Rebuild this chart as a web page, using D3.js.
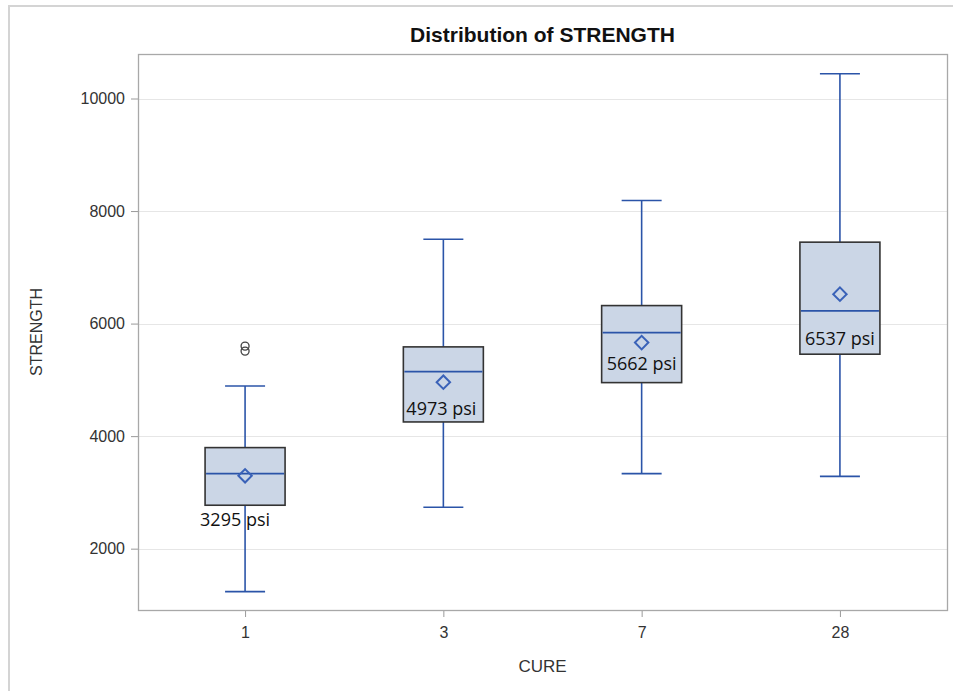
<!DOCTYPE html>
<html>
<head>
<meta charset="utf-8">
<script src="https://cdn.jsdelivr.net/npm/d3@7"></script>
<style>
  html, body { margin: 0; padding: 0; background: #fff; }
  svg { display: block; }
</style>
</head>
<body>
<script>
// ---- data ----
const categories = ["1", "3", "7", "28"];
const whiskerLow  = [1236, 2736, 3333, 3285];
const q1          = [2772, 4252, 4951, 5456];
const median      = [3333, 5147, 5840, 6226];
const q3          = [3796, 5586, 6320, 7447];
const whiskerHigh = [4892, 7500, 8187, 10439];
const means       = [3295, 4958, 5662, 6523];
const meanLabels  = ["3295 psi", "4973 psi", "5662 psi", "6537 psi"];
const outlierCats = ["1", "1"];
const outlierVals = [5600, 5511];
const yTicks      = [2000, 4000, 6000, 8000, 10000];

const W = 953, H = 691;
const plot = { left: 138, right: 947, top: 54, bottom: 610 };

const svg = d3.select("body").append("svg").attr("width", W).attr("height", H);

// outer frame
svg.append("rect").attr("x", 9).attr("y", 6).attr("width", 1000).attr("height", 1000)
  .attr("fill", "none").attr("stroke", "#d4d4d4").attr("stroke-width", 2);

const x = d3.scalePoint().domain(categories).range([plot.left, plot.right]).padding(0.54);
const y = d3.scaleLinear().domain([910, 10791]).range([plot.bottom, plot.top]);

// gridlines
svg.append("g").selectAll("line").data(yTicks).join("line")
  .attr("x1", plot.left).attr("x2", plot.right)
  .attr("y1", d => Math.round(y(d)) + 0.5).attr("y2", d => Math.round(y(d)) + 0.5)
  .attr("stroke", "#e6e6e6").attr("stroke-width", 1.2);

// axes
const font = "'Liberation Sans', Arial, sans-serif";
const yAxis = svg.append("g").attr("transform", `translate(${plot.left},0)`)
  .call(d3.axisLeft(y).tickValues(yTicks).tickSize(7).tickPadding(6).tickFormat(d3.format("d")));
const xAxis = svg.append("g").attr("transform", `translate(0,${plot.bottom})`)
  .call(d3.axisBottom(x).tickSize(7).tickPadding(10));
[yAxis, xAxis].forEach(g => {
  g.select(".domain").remove();
  g.selectAll(".tick line").attr("stroke", "#9a9a9a");
  g.selectAll(".tick text").attr("fill", "#333").style("font-family", font).style("font-size", "16px");
});

// plot frame
svg.append("rect").attr("x", plot.left + 0.5).attr("y", plot.top + 0.5)
  .attr("width", plot.right - plot.left).attr("height", plot.bottom - plot.top)
  .attr("fill", "none").attr("stroke", "#a8a8a8").attr("stroke-width", 1.3);

// title and axis labels
svg.append("text").attr("x", (plot.left + plot.right) / 2).attr("y", 42)
  .attr("text-anchor", "middle").style("font-family", font).style("font-weight", "bold")
  .style("font-size", "21px").attr("fill", "#111").text("Distribution of STRENGTH");
svg.append("text").attr("x", (plot.left + plot.right) / 2).attr("y", 672)
  .attr("text-anchor", "middle").style("font-family", font).style("font-size", "17px")
  .attr("fill", "#333").text("CURE");
svg.append("text").attr("transform", `translate(42,${(plot.top + plot.bottom) / 2}) rotate(-90)`)
  .attr("text-anchor", "middle").style("font-family", font).style("font-size", "16px")
  .attr("fill", "#333").text("STRENGTH");

// boxes
const blue = "#2b54a8";
const boxW = 80, capW = 40;
const rows = categories.map((c, i) => ({ c, i }));
const g = svg.append("g");
rows.forEach(({ c, i }) => {
  const cx = x(c);
  // whiskers
  g.append("line").attr("x1", cx).attr("x2", cx).attr("y1", y(whiskerHigh[i])).attr("y2", y(q3[i]))
    .attr("stroke", blue).attr("stroke-width", 1.6);
  g.append("line").attr("x1", cx).attr("x2", cx).attr("y1", y(q1[i])).attr("y2", y(whiskerLow[i]))
    .attr("stroke", blue).attr("stroke-width", 1.6);
  [whiskerHigh[i], whiskerLow[i]].forEach(v => {
    g.append("line").attr("x1", cx - capW / 2).attr("x2", cx + capW / 2).attr("y1", y(v)).attr("y2", y(v))
      .attr("stroke", blue).attr("stroke-width", 1.6);
  });
  // box
  g.append("rect").attr("x", cx - boxW / 2).attr("y", y(q3[i]))
    .attr("width", boxW).attr("height", y(q1[i]) - y(q3[i]))
    .attr("fill", "#cbd6e6").attr("stroke", "#333").attr("stroke-width", 1.6);
  g.append("line").attr("x1", cx - boxW / 2 + 1).attr("x2", cx + boxW / 2 - 1)
    .attr("y1", y(median[i])).attr("y2", y(median[i])).attr("stroke", blue).attr("stroke-width", 1.6);
  // mean diamond
  g.append("path").attr("transform", `translate(${cx},${y(means[i])}) rotate(45)`)
    .attr("d", d3.symbol().type(d3.symbolSquare).size(90)())
    .attr("fill", "none").attr("stroke", "#3a62b8").attr("stroke-width", 2);
});

// outliers
g.selectAll("circle.out").data(outlierVals).join("circle").attr("class", "out")
  .attr("cx", (d, i) => x(outlierCats[i])).attr("cy", d => y(d)).attr("r", 4)
  .attr("fill", "none").attr("stroke", "#444").attr("stroke-width", 1.3);

// annotation labels (layout offsets from mean marker)
const labelDx = [-10, -2, 0, 0];
const labelDy = [50, 33, 27, 51];
g.selectAll("text.lab").data(meanLabels).join("text").attr("class", "lab")
  .attr("x", (d, i) => x(categories[i]) + labelDx[i])
  .attr("y", (d, i) => y(means[i]) + labelDy[i])
  .attr("text-anchor", "middle").style("font-family", "'Open Sans', sans-serif")
  .style("font-size", "18px").attr("fill", "#111").text(d => d);
</script>
</body>
</html>
